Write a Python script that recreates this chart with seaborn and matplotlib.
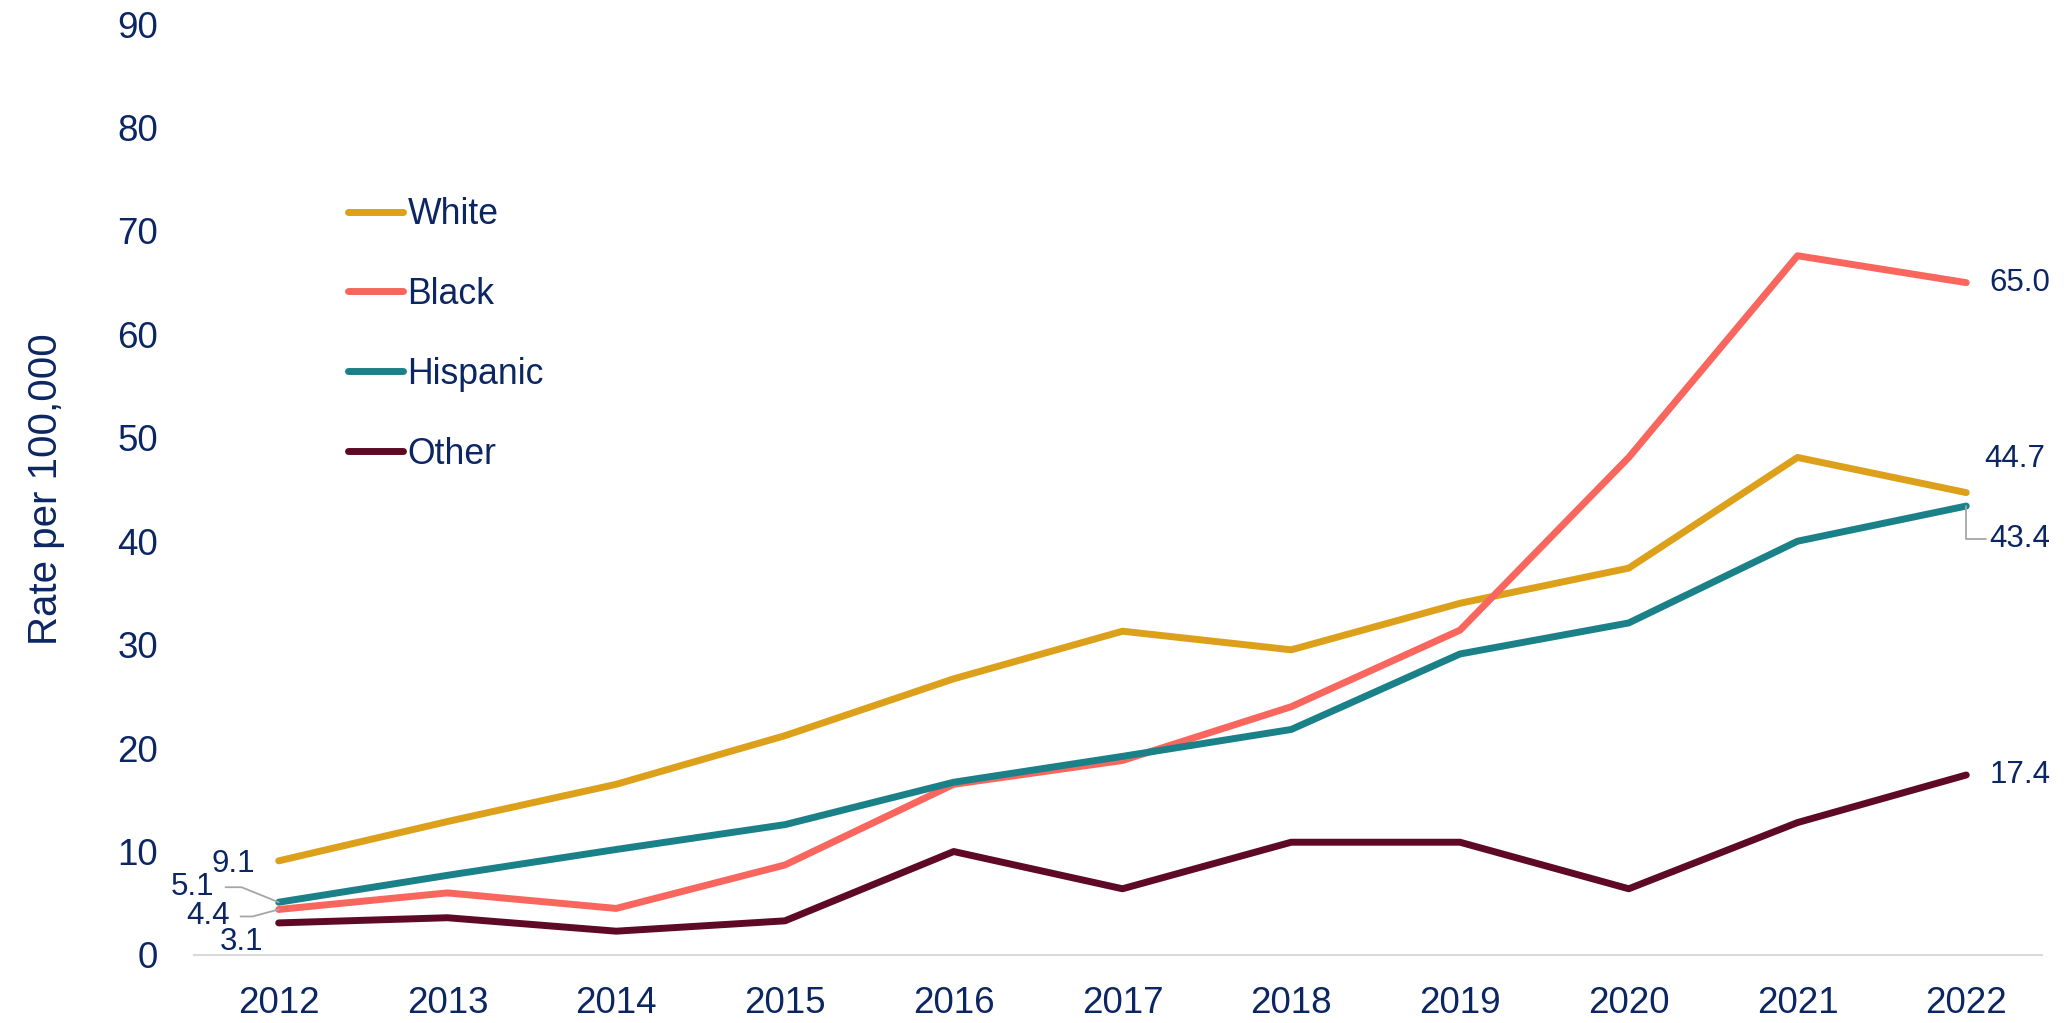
import numpy as np
import matplotlib
matplotlib.use("Agg")
import matplotlib.pyplot as plt
import pandas as pd
import seaborn as sns

# Data
years = list(range(2012, 2023))
white = [9.1, 12.9, 16.5, 21.2, 26.7, 31.3, 29.5, 34.0, 37.4, 48.1, 44.7]
black = [4.4, 6.0, 4.5, 8.7, 16.5, 18.8, 24.0, 31.4, 48.1, 67.6, 65.0]
hispanic = [5.1, 7.7, 10.2, 12.6, 16.7, 19.2, 21.8, 29.1, 32.1, 40.0, 43.4]
other = [3.1, 3.6, 2.3, 3.3, 10.0, 6.4, 10.9, 10.9, 6.4, 12.8, 17.4]

groups = ["White", "Black", "Hispanic", "Other"]
colors = ["#DDA01A", "#F9665E", "#1B8189", "#5E0A26"]
text_color = "#0C2663"

df = pd.DataFrame({
    "year": years * 4,
    "rate": white + black + hispanic + other,
    "group": [g for g in groups for _ in years],
})

sns.set_style("white")
plt.rcParams["font.family"] = ["Liberation Sans", "DejaVu Sans"]

fig = plt.figure(figsize=(20.67, 10.23), dpi=100)
ax = fig.add_axes([0.094, 0.0665, 0.894, 0.91])

sns.lineplot(data=df, x="year", y="rate", hue="group", hue_order=groups,
             palette=colors, linewidth=5, ax=ax)
for line in ax.get_lines():
    line.set_solid_capstyle("round")

ax.set_xlim(2011.5, 2022.45)
ax.set_ylim(0, 90)
ax.set_xticks(years)
ax.set_yticks(range(0, 91, 10))
ax.tick_params(axis="x", length=0, pad=22, labelsize=26.5, labelcolor=text_color)
ax.tick_params(axis="y", length=0, pad=26, labelsize=26.5, labelcolor=text_color)
ax.set_xlabel("")
ax.set_ylabel("Rate per 100,000", fontsize=29, color=text_color, labelpad=38)

for s in ["top", "right", "left"]:
    ax.spines[s].set_visible(False)
ax.spines["bottom"].set_color("#D9D9D9")
ax.spines["bottom"].set_linewidth(1.5)

# legend
leg = ax.legend(loc="upper left", bbox_to_anchor=(348 / 2067, 1 - 197 / 1023),
                bbox_transform=fig.transFigure, frameon=False, fontsize=25.7,
                labelspacing=1.26, handlelength=1.55, handletextpad=0.12,
                borderpad=0, borderaxespad=0)
for t in leg.get_texts():
    t.set_color(text_color)
for h in leg.get_lines():
    h.set_linewidth(5)
    h.set_solid_capstyle("round")

# end-point labels
lead = dict(arrowstyle="-", color="#A6A6A6", lw=1.3, shrinkA=0, shrinkB=0)
fs = 22.5
ax.annotate(f"{white[-1]:.1f}", (years[-1], white[-1]), xytext=(18, 34),
            textcoords="offset pixels", fontsize=fs, color=text_color, va="center")
ax.annotate(f"{black[-1]:.1f}", (years[-1], black[-1]), xytext=(23, 0),
            textcoords="offset pixels", fontsize=fs, color=text_color, va="center")
ax.annotate(f"{hispanic[-1]:.1f}", (years[-1], hispanic[-1]), xytext=(23, -33),
            textcoords="offset pixels", fontsize=fs, color=text_color, va="center",
            arrowprops=dict(lead, relpos=(0, 0.5),
                            connectionstyle="angle,angleA=0,angleB=90,rad=0"))
ax.annotate(f"{other[-1]:.1f}", (years[-1], other[-1]), xytext=(23, 0),
            textcoords="offset pixels", fontsize=fs, color=text_color, va="center")

# start-point labels
ax.annotate(f"{white[0]:.1f}", (years[0], white[0]), xytext=(-24, -3),
            textcoords="offset pixels", fontsize=fs, color=text_color,
            va="center", ha="right")
ax.annotate(f"{hispanic[0]:.1f}", (years[0], hispanic[0]), xytext=(-64, 15),
            textcoords="offset pixels", fontsize=fs, color=text_color,
            va="center", ha="right",
            arrowprops=dict(lead, relpos=(1.25, 0.5),
                            connectionstyle="angle,angleA=0,angleB=158,rad=0"))
ax.annotate(f"{black[0]:.1f}", (years[0], black[0]), xytext=(-49, -7),
            textcoords="offset pixels", fontsize=fs, color=text_color,
            va="center", ha="right",
            arrowprops=dict(lead, relpos=(1.25, 0.5),
                            connectionstyle="angle,angleA=0,angleB=15,rad=0"))
ax.annotate(f"{other[0]:.1f}", (years[0], other[0]), xytext=(-15, -19),
            textcoords="offset pixels", fontsize=fs, color=text_color,
            va="center", ha="right")

fig.savefig("out.png", dpi=100)
